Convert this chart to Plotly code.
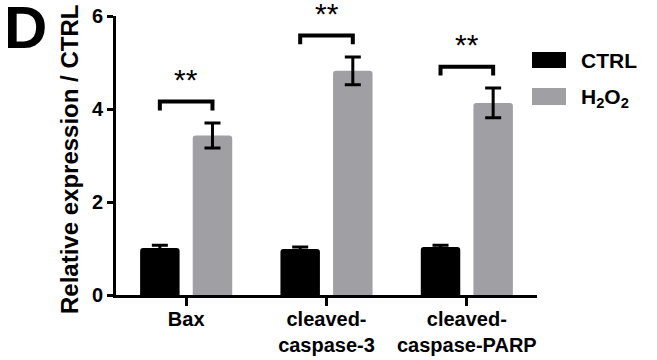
import plotly.graph_objects as go

categories = ["Bax", "cleaved-<br>caspase-3", "cleaved-<br>caspase-PARP"]
ctrl_values = [1.01, 0.99, 1.03]
ctrl_errors = [0.06, 0.04, 0.04]
h2o2_values = [3.43, 4.82, 4.13]
h2o2_errors = [0.27, 0.30, 0.32]
significance = ["**", "**", "**"]
y_ticks = [0, 2, 4, 6]

BLACK = "#000000"
GRAY = "#a0a0a4"
FONT = "Liberation Sans, Arial, sans-serif"

# plot area in pixels (for placing legend / labels outside the axes)
L, R, T, B = 116, 537, 16, 295
W, H = R - L, B - T


def px_x(px):
    return (px - L) / W


def px_y(py):
    return (B - py) / H


fig = go.Figure()
fig.add_trace(go.Bar(
    x=categories, y=ctrl_values, name="CTRL",
    marker=dict(color=BLACK, cornerradius=3, line=dict(width=0)),
    error_y=dict(type="data", array=ctrl_errors, color=BLACK, thickness=3, width=8),
    showlegend=False,
))
fig.add_trace(go.Bar(
    x=categories, y=h2o2_values, name="H2O2",
    marker=dict(color=GRAY, cornerradius=3, line=dict(width=0)),
    error_y=dict(type="data", array=h2o2_errors, color=BLACK, thickness=3, width=8),
    showlegend=False,
))

shapes = []
annotations = []
half = 0.1875
for i, (v, e, s) in enumerate(zip(h2o2_values, h2o2_errors, significance)):
    top = v + e
    leg = top + 0.27
    bar = top + 0.46
    shapes.append(dict(
        type="path", xref="x", yref="y",
        path=f"M {i-half},{leg} L {i-half},{bar} L {i+half},{bar} L {i+half},{leg}",
        line=dict(color=BLACK, width=4), fillcolor="rgba(0,0,0,0)",
    ))
    annotations.append(dict(
        x=i, y=bar, xref="x", yref="y", text=s, showarrow=False,
        yanchor="bottom", yshift=4,
        font=dict(family=FONT, size=30, color=BLACK),
    ))

# legend (drawn manually to match the wide rounded swatches)
legend_items = [("CTRL", BLACK, 52, 68, 60), ("H<sub>2</sub>O<sub>2</sub>", GRAY, 88, 105, 98)]
for label, col, y_top, y_bot, y_txt in legend_items:
    shapes.append(dict(
        type="rect", xref="paper", yref="paper",
        x0=px_x(532), x1=px_x(566), y0=px_y(y_bot), y1=px_y(y_top),
        fillcolor=col, line=dict(width=0), layer="above",
    ))
    annotations.append(dict(
        x=px_x(579), y=px_y(y_txt), xref="paper", yref="paper", text=label,
        showarrow=False, xanchor="left", yanchor="middle",
        font=dict(family=FONT, size=21, color=BLACK, weight="bold"),
    ))

annotations.append(dict(
    x=px_x(69), y=px_y(160), xref="paper", yref="paper",
    text="Relative expression / CTRL", textangle=-90,
    showarrow=False, xanchor="center", yanchor="middle",
    font=dict(family=FONT, size=24, color=BLACK, weight="bold"),
))
annotations.append(dict(
    x=px_x(25), y=px_y(27), xref="paper", yref="paper", text="D", showarrow=False,
    xanchor="center", yanchor="middle",
    font=dict(family=FONT, size=60, color=BLACK, weight="bold"),
))

fig.update_layout(
    width=657, height=360,
    margin=dict(l=L, r=657 - R, t=T, b=360 - B, autoexpand=False),
    paper_bgcolor="white", plot_bgcolor="white",
    barmode="group", bargap=0.25, bargroupgap=0.25,
    font=dict(family=FONT, color=BLACK),
    shapes=shapes, annotations=annotations,
    showlegend=False,
)
fig.update_xaxes(
    range=[-0.5, 2.5], showline=True, linecolor=BLACK, linewidth=3,
    ticks="outside", ticklen=8, tickwidth=3, tickcolor=BLACK,
    tickfont=dict(family=FONT, size=20, color=BLACK, weight="bold"),
    ticklabelstandoff=-4,
    showgrid=False, zeroline=False, automargin=False,
)
fig.update_yaxes(
    range=[0, 6], tickvals=y_ticks, showline=True, linecolor=BLACK, linewidth=3,
    ticks="outside", ticklen=6, tickwidth=3, tickcolor=BLACK,
    tickfont=dict(family=FONT, size=20, color=BLACK, weight="bold"),
    showgrid=False, zeroline=False, automargin=False,
)

fig.write_html(
    "out.html",
    config={"displayModeBar": False},
    post_script="document.body.style.margin='0';document.body.style.overflow='hidden';",
)
